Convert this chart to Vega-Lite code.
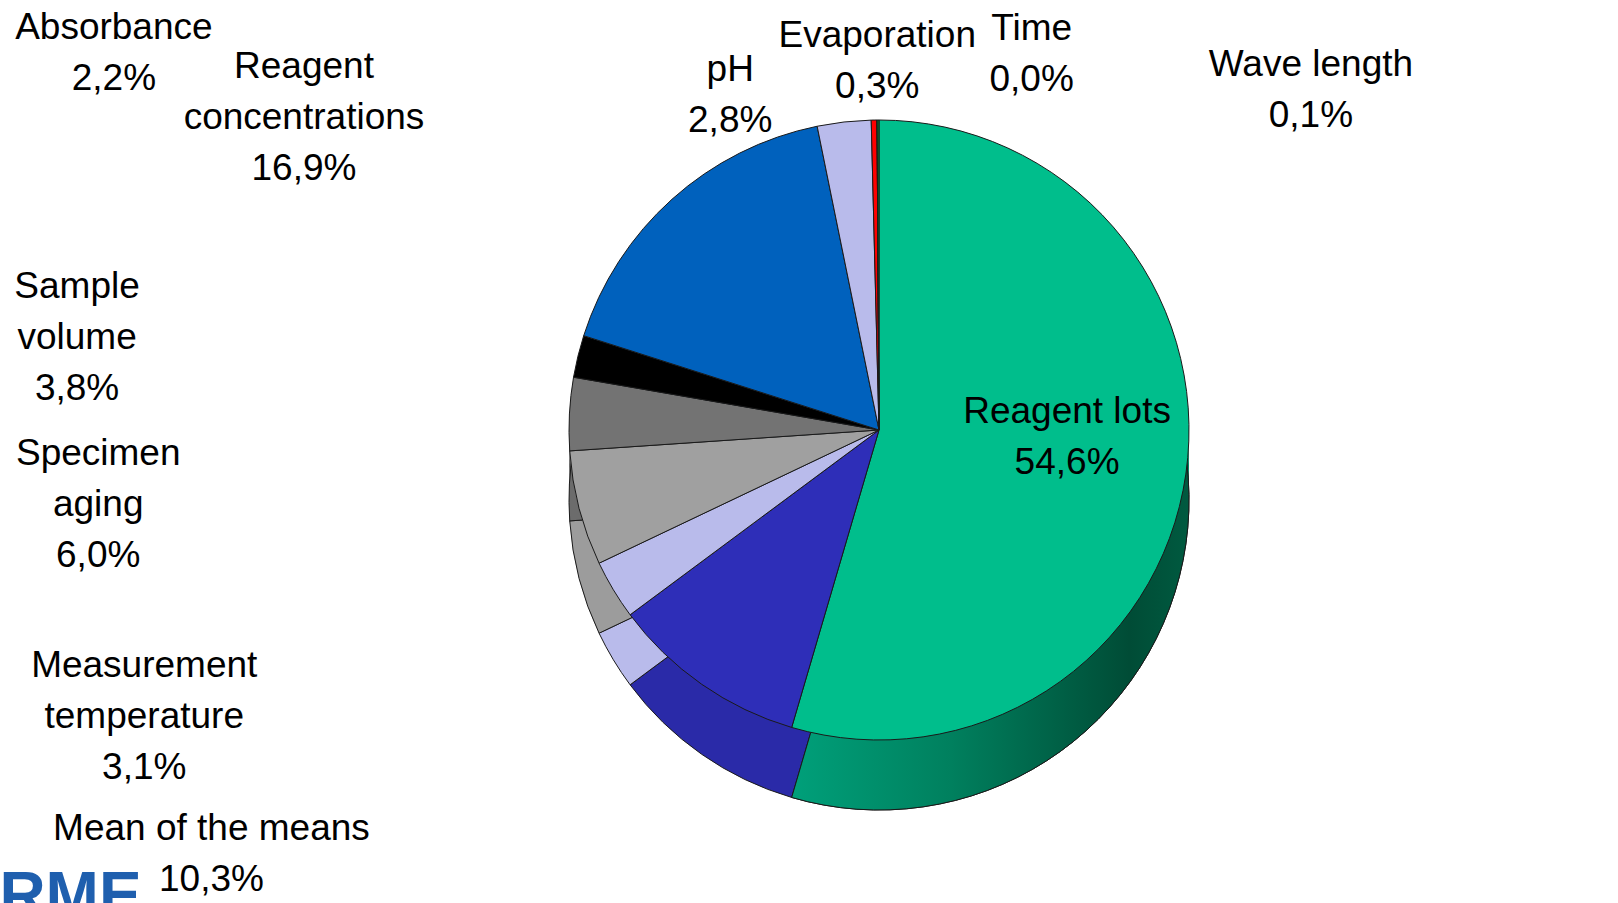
{
  "$schema": "https://vega.github.io/schema/vega-lite/v6.json",
  "width": 1478,
  "height": 860,
  "autosize": {"type": "none"},
  "padding": {"left": 140, "top": 0, "right": 0, "bottom": 43},
  "background": "white",
  "config": {
    "view": {"stroke": null},
    "text": {"font": "Liberation Sans, Arial, sans-serif", "fontSize": 37, "lineHeight": 51, "color": "#000000", "align": "center", "baseline": "middle"}
  },
  "data": {
    "values": [
      {"idx": 1, "cat": "Reagent lots", "value": 54.6, "label": "Reagent lots\n54,6%"},
      {"idx": 2, "cat": "Mean of the means", "value": 10.3, "label": "Mean of the means\n10,3%"},
      {"idx": 3, "cat": "Measurement temperature", "value": 3.1, "label": "Measurement\ntemperature\n3,1%"},
      {"idx": 4, "cat": "Specimen aging", "value": 6.0, "label": "Specimen\naging\n6,0%"},
      {"idx": 5, "cat": "Sample volume", "value": 3.8, "label": "Sample\nvolume\n3,8%"},
      {"idx": 6, "cat": "Absorbance", "value": 2.2, "label": "Absorbance\n2,2%"},
      {"idx": 7, "cat": "Reagent concentrations", "value": 16.9, "label": "Reagent\nconcentrations\n16,9%"},
      {"idx": 8, "cat": "pH", "value": 2.8, "label": "pH\n2,8%"},
      {"idx": 9, "cat": "Evaporation", "value": 0.3, "label": "Evaporation\n0,3%"},
      {"idx": 10, "cat": "Time", "value": 0.0, "label": "Time\n0,0%"},
      {"idx": 11, "cat": "Wave length", "value": 0.1, "label": "Wave length\n0,1%"}
    ]
  },
  "encoding": {
    "theta": {"field": "value", "type": "quantitative", "stack": true},
    "order": {"field": "idx", "type": "quantitative"}
  },
  "layer": [
    {
      "mark": {"type": "arc", "outerRadius": 310, "yOffset": 35},
      "encoding": {
        "color": {"field": "cat", "type": "nominal", "legend": null,
          "scale": {"domain": ["Reagent lots", "Mean of the means", "Measurement temperature", "Specimen aging", "Sample volume", "Absorbance", "Reagent concentrations", "pH", "Evaporation", "Time", "Wave length"],
                    "range": ["#00805e", "#2a2aa8", "#b9bbeb", "#9c9c9c", "#6c6c6c", "#000000", "#0058ad", "#b9bbeb", "#e00000", "#007a28", "#007a28"]}}
      }
    },
    {
      "mark": {"type": "arc", "outerRadius": 310, "yOffset": 70, "stroke": "#1a1a1a", "strokeWidth": 1},
      "encoding": {
        "color": {"field": "cat", "type": "nominal", "legend": null,
          "scale": {"domain": ["Reagent lots", "Mean of the means", "Measurement temperature", "Specimen aging", "Sample volume", "Absorbance", "Reagent concentrations", "pH", "Evaporation", "Time", "Wave length"],
                    "range": ["#00805e", "#2a2aa8", "#b9bbeb", "#9c9c9c", "#6c6c6c", "#000000", "#0058ad", "#b9bbeb", "#e00000", "#007a28", "#007a28"]}}
      }
    },
    {
      "mark": {"type": "arc", "outerRadius": 310, "yOffset": 70, "stroke": "#1a1a1a", "strokeWidth": 1,
        "fill": {"gradient": "linear", "x1": 0, "x2": 1, "y1": 0, "y2": 0,
          "stops": [{"offset": 0, "color": "#00a07a"}, {"offset": 0.4, "color": "#00805e"}, {"offset": 0.85, "color": "#004c36"}, {"offset": 1, "color": "#005a40"}]}},
      "encoding": {
        "opacity": {"condition": {"test": "datum.cat === 'Reagent lots'", "value": 1}, "value": 0}
      }
    },
    {
      "mark": {"type": "arc", "outerRadius": 310, "stroke": "#1a1a1a", "strokeWidth": 1},
      "encoding": {
        "color": {"field": "cat", "type": "nominal", "legend": null,
          "scale": {"domain": ["Reagent lots", "Mean of the means", "Measurement temperature", "Specimen aging", "Sample volume", "Absorbance", "Reagent concentrations", "pH", "Evaporation", "Time", "Wave length"],
                    "range": ["#00be8c", "#2e2eb8", "#b9bbeb", "#a0a0a0", "#737373", "#000000", "#0061bd", "#b9bbeb", "#ff0000", "#00872e", "#00872e"]}}
      }
    },
    {"mark": {"type": "text", "radius": 190, "dx": 0, "dy": -45, "lineBreak": "\n"},
     "encoding": {"text": {"condition": {"test": "datum.cat === 'Reagent lots'", "field": "label"}, "value": ""}}},
    {"mark": {"type": "text", "radius": 730, "dx": -250, "dy": -200, "lineBreak": "\n"},
     "encoding": {"text": {"condition": {"test": "datum.cat === 'Mean of the means'", "field": "label"}, "value": ""}}},
    {"mark": {"type": "text", "radius": 778, "dx": -68, "dy": -165, "lineBreak": "\n"},
     "encoding": {"text": {"condition": {"test": "datum.cat === 'Measurement temperature'", "field": "label"}, "value": ""}}},
    {"mark": {"type": "text", "radius": 775, "dx": -31, "dy": -172, "lineBreak": "\n"},
     "encoding": {"text": {"condition": {"test": "datum.cat === 'Specimen aging'", "field": "label"}, "value": ""}}},
    {"mark": {"type": "text", "radius": 806, "dx": 3, "dy": -101, "lineBreak": "\n"},
     "encoding": {"text": {"condition": {"test": "datum.cat === 'Sample volume'", "field": "label"}, "value": ""}}},
    {"mark": {"type": "text", "radius": 832, "dx": 43, "dy": -204, "lineBreak": "\n"},
     "encoding": {"text": {"condition": {"test": "datum.cat === 'Absorbance'", "field": "label"}, "value": ""}}},
    {"mark": {"type": "text", "radius": 614, "dx": -165, "dy": 94, "lineBreak": "\n"},
     "encoding": {"text": {"condition": {"test": "datum.cat === 'Reagent concentrations'", "field": "label"}, "value": ""}}},
    {"mark": {"type": "text", "radius": 344, "dx": -110, "dy": -18, "lineBreak": "\n"},
     "encoding": {"text": {"condition": {"test": "datum.cat === 'pH'", "field": "label"}, "value": ""}}},
    {"mark": {"type": "text", "radius": 368, "dx": 4, "dy": -26, "lineBreak": "\n"},
     "encoding": {"text": {"condition": {"test": "datum.cat === 'Evaporation'", "field": "label"}, "value": ""}}},
    {"mark": {"type": "text", "radius": 374, "dx": 155, "dy": -27, "lineBreak": "\n"},
     "encoding": {"text": {"condition": {"test": "datum.cat === 'Time'", "field": "label"}, "value": ""}}},
    {"mark": {"type": "text", "radius": 338, "dx": 433, "dy": -27, "lineBreak": "\n"},
     "encoding": {"text": {"condition": {"test": "datum.cat === 'Wave length'", "field": "label"}, "value": ""}}},
    {"mark": {"type": "text", "radius": 730, "dx": -391, "dy": -112, "baseline": "alphabetic", "fontSize": 64, "fontWeight": "bold", "color": "#1f5fae"},
     "encoding": {"text": {"condition": {"test": "datum.cat === 'Mean of the means'", "value": "RME"}, "value": ""}}}
  ],
  "resolve": {"scale": {"color": "independent"}}
}
